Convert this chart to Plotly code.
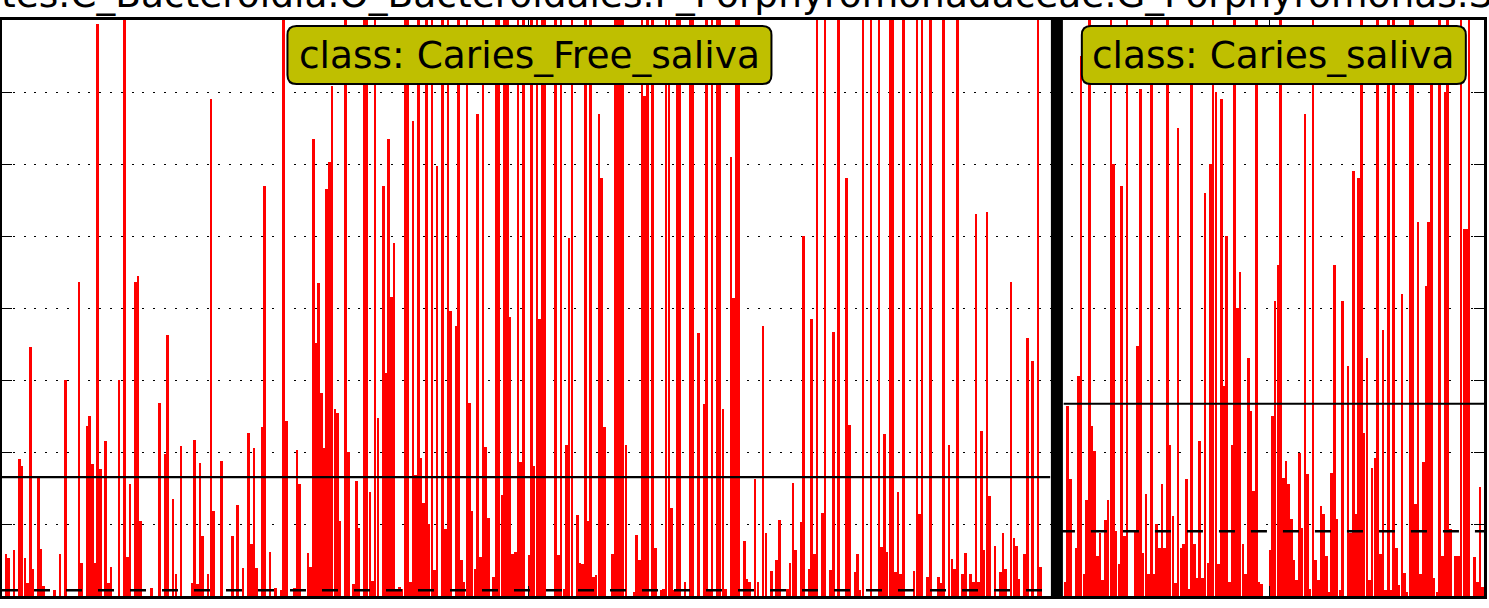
import plotly.graph_objects as go

# ---------------- data ----------------
title_text = "tes.C_Bacteroidia.O_Bacteroidales.F_Porphyromonadaceae.G_Porphyromonas.S"
class_names = ["Caries_Free_saliva", "Caries_saliva"]

caries_free_values = [
    0, 0.58, 0.53, 0, 0.64, 0, 1.9, 1.8, 0.53, 0.18,
    3.46, 0.38, 0, 1.65, 0.65, 0.14, 0, 0, 0, 0.08,
    0, 0.58, 0, 3.0, 0, 0, 0, 0, 4.36, 0.46,
    0, 2.36, 2.5, 1.83, 0.46, 7.95, 1.76, 0, 2.15, 0.18,
    0.4, 0, 0, 3.0, 0, 9, 0.54, 1.55, 0, 4.36,
    4.44, 1.04, 0, 0, 0, 0.11, 0, 0, 2.68, 0,
    1.97, 3.62, 0, 1.35, 0.3, 0, 2.08, 0, 0, 0,
    0.18, 2.17, 0.17, 1.85, 0.83, 0, 0.3, 6.9, 1.18, 0,
    0, 1.87, 0, 0, 0, 0.83, 0, 1.26, 0, 0.39,
    0, 2.27, 0.72, 2.05, 0.39, 0, 2.35, 5.7, 0, 0.61,
    0, 0.11, 0, 0.08, 9, 2.43, 0, 0, 0.11, 2.03,
    1.55, 0, 0, 0.6, 0.4, 6.35, 3.51, 4.35, 2.82, 2.05,
    5.65, 6.03, 7.08, 2.6, 2.54, 1.04, 0, 9, 2.0, 0,
    0.17, 1.6, 0.94, 0, 9, 9, 1.44, 0.21, 9, 2.47,
    0, 5.7, 3.1, 6.35, 4.15, 4.9, 0.08, 0.12, 0.1, 9,
    9, 0.2, 6.6, 1.68, 9, 1.92, 1.29, 9, 1.0, 9,
    0.36, 5.97, 0, 9, 0.93, 9, 3.96, 0, 3.75, 9,
    0.5, 0.19, 9, 2.68, 1.18, 0.37, 6.7, 0.54, 9, 2.07,
    1.08, 0, 0.26, 9, 9, 1.4, 9, 9, 3.88, 0.58,
    0.61, 9, 1.86, 9, 0, 0.57, 9, 1.8, 9, 3.85,
    9, 9, 0, 0, 0, 9, 0.57, 9, 0.1, 2.1,
    4.97, 9, 0, 1.12, 0.46, 0.44, 9, 1.04, 9, 0.26,
    0.29, 6.7, 5.8, 2.35, 0, 0, 0.58, 9, 9, 9,
    9, 2.1, 0, 0, 0.06, 0.85, 0.5, 9, 6.94, 9,
    0, 9, 0.66, 0, 0.08, 0.1, 9, 9, 1.22, 0.08,
    9, 9, 0, 0.2, 0, 9, 9, 0, 3.65, 0,
    2.67, 9, 0.1, 9, 0, 9, 9, 2.6, 0.1, 0,
    6.1, 4.14, 9, 9, 0, 0.76, 0.24, 0.2, 0, 1.63,
    0.2, 0, 3.75, 0.88, 0, 0.35, 0, 0.5, 1.06, 0,
    0, 0.1, 0.46, 1.57, 0.64, 0, 1.03, 5.0, 0, 0.37,
    3.85, 0.59, 9, 0, 1.15, 9, 0, 0.36, 3.67, 0,
    9, 0, 0, 5.8, 2.38, 0, 0.34, 0.58, 0.08, 9,
    0, 0, 9, 0, 0, 9, 0.68, 2.25, 0.61, 9,
    9, 0.34, 1.44, 0.3, 9, 0, 0, 0, 0.35, 9,
    1.14, 9, 0, 0.27, 9, 0, 0, 0.26, 0.18, 9,
    0, 2.1, 0.51, 0.38, 9, 0, 0.3, 0.6, 0, 0.3,
    0.2, 5.3, 0.2, 2.29, 0.64, 5.33, 1.39, 0, 0.7, 0,
    0.34, 0.87, 0.37, 0, 4.36, 0.8, 0.7, 0.24, 0, 0.58,
    3.58, 0, 3.26, 0, 9, 0.4, 0, 0, 0,
]

caries_values = [
    0.19, 2.64, 1.63, 0, 0.67, 3.05, 7.5, 0.3, 1.34, 9,
    2.36, 2.01, 0.56, 0.88, 0.22, 1.06, 1.33, 9, 6.0, 0.9,
    0.44, 5.7, 0.83, 9, 0, 0, 0.9, 3.47, 7.04, 0.6,
    1.41, 0.3, 9, 0.3, 1.0, 0.67, 1.55, 0.67, 9, 2.1,
    1.11, 0.18, 6.5, 0.67, 0.72, 1.63, 0.1, 9, 0.72, 0.25,
    2.15, 0.25, 5.6, 0.46, 6.0, 9, 7.0, 0.44, 6.9, 2.92,
    5.0, 0.19, 2.1, 9, 4.0, 4.5, 0.72, 0.3, 3.3, 2.57,
    1.46, 9, 0.19, 0.16, 0, 0, 0.64, 2.5, 4.1, 4.6,
    9, 1.64, 1.87, 1.56, 1.07, 0.5, 0.22, 1.99, 0.94, 6.7,
    1.69, 0.1, 9, 0.5, 0.22, 1.25, 1.14, 0.56, 0.06, 1.71,
    4.6, 1.07, 0.08, 4.1, 0, 3.2, 0.88, 5.9, 1.14, 5.8,
    9, 2.27, 3.3, 0.22, 1.78, 1.91, 9, 0.58, 3.7, 0.08,
    9, 0.08, 9, 0.67, 0.15, 4.2, 0.32, 0.06, 9, 9,
    1.28, 5.2, 0.3, 1.86, 4.3, 5.2, 7.6, 0.25, 0.06, 9,
    0.55, 7.0, 9, 0.93, 0, 0.55, 0.56, 9, 5.1, 5.1,
    9, 0, 0.54, 0.19, 1.52, 0.12,
]

group_means = [1.65, 2.67]     # solid black lines
group_medians = [0.08, 0.90]   # dashed black lines
y_ticks = [0, 1, 2, 3, 4, 5, 6, 7, 8]
x_ticks = [195, 470]

# ---------------- layout constants ----------------
W, H = 1489, 608
ML, MR, MT, MB = 2, 2, 20, 12
PW, PH = W - ML - MR, H - MT - MB
GAP = 5
Y_MAX = 8

n1, n2 = len(caries_free_values), len(caries_values)
x1 = list(range(n1))
x2_start = n1 + GAP
x2 = list(range(x2_start, x2_start + n2))
x_lo, x_hi = -0.5, x2_start + n2 - 0.5
sep_x = n1 - 0.5 + GAP / 2.0

fig = go.Figure()
for xs, ys in ((x1, caries_free_values), (x2, caries_values)):
    fig.add_trace(go.Bar(x=xs, y=ys, width=0.95, marker=dict(color="#ff0000", line=dict(width=0)),
                         showlegend=False, hoverinfo="skip"))

shapes = []
# mean lines
shapes.append(dict(type="line", xref="x", yref="y", x0=x_lo, x1=n1 - 0.5,
                   y0=group_means[0], y1=group_means[0], line=dict(color="black", width=2.2)))
shapes.append(dict(type="line", xref="x", yref="y", x0=x2_start - 0.5, x1=x_hi,
                   y0=group_means[1], y1=group_means[1], line=dict(color="black", width=2.2)))
# median lines
shapes.append(dict(type="line", xref="x", yref="y", x0=x_lo, x1=sep_x,
                   y0=group_medians[0], y1=group_medians[0],
                   line=dict(color="black", width=2.5, dash="16px,16px")))
shapes.append(dict(type="line", xref="x", yref="y", x0=sep_x + 0.75, x1=x_hi,
                   y0=group_medians[1], y1=group_medians[1],
                   line=dict(color="black", width=2.5, dash="16px,16px")))
# separator
shapes.append(dict(type="line", xref="x", yref="paper", x0=sep_x, x1=sep_x, y0=0, y1=1,
                   line=dict(color="black", width=12)))


def rounded_box(w, h, r):
    a, b = w / 2.0, h / 2.0
    return (f"M {-a + r},{-b} L {a - r},{-b} Q {a},{-b} {a},{-b + r} "
            f"L {a},{b - r} Q {a},{b} {a - r},{b} L {-a + r},{b} Q {-a},{b} {-a},{b - r} "
            f"L {-a},{-b + r} Q {-a},{-b} {-a + r},{-b} Z")


label_y_paper = (PH - (55 - MT)) / PH
box_widths = [484, 384]
centers = [(x_lo + sep_x) / 2.0, (x2_start - 0.5 + x_hi) / 2.0]
annotations = []
for name, cx, bw in zip(class_names, centers, box_widths):
    shapes.append(dict(type="path", xref="x", yref="paper", xsizemode="pixel", ysizemode="pixel",
                       xanchor=cx, yanchor=label_y_paper, path=rounded_box(bw, 58, 9),
                       fillcolor="#bfbf00", line=dict(color="black", width=2), layer="above"))
    annotations.append(dict(x=cx, y=label_y_paper, xref="x", yref="paper", text="class: " + name,
                            showarrow=False, xanchor="center", yanchor="middle",
                            font=dict(family="DejaVu Sans", size=37.5, color="black")))

annotations.append(dict(x=(-1 - ML) / PW, y=1 + (MT + 6) / PH, xref="paper", yref="paper",
                        text=title_text, showarrow=False, xanchor="left", yanchor="middle",
                        font=dict(family="DejaVu Sans", size=37.5, color="black")))

fig.update_layout(
    width=W, height=H, margin=dict(l=ML, r=MR, t=MT, b=MB, pad=0),
    paper_bgcolor="white", plot_bgcolor="white", bargap=0,
    shapes=shapes, annotations=annotations,
    xaxis=dict(range=[x_lo, x_hi], showgrid=False, zeroline=False, showline=True,
               linecolor="black", linewidth=2.5, mirror="ticks", ticks="inside",
               tickvals=x_ticks, ticklen=10, tickwidth=1, tickcolor="black",
               showticklabels=False, fixedrange=True),
    yaxis=dict(range=[0, Y_MAX], showgrid=True, gridcolor="black", gridwidth=1,
               griddash="2px,8.8px", zeroline=False, showline=True, linecolor="black",
               linewidth=2.5, mirror="ticks", ticks="inside", tickvals=y_ticks, ticklen=10,
               tickwidth=1, tickcolor="black", showticklabels=False, fixedrange=True),
)

fig.write_html("out.html", config={"displayModeBar": False},
               post_script="document.body.style.margin='0';document.body.style.overflow='hidden';")
